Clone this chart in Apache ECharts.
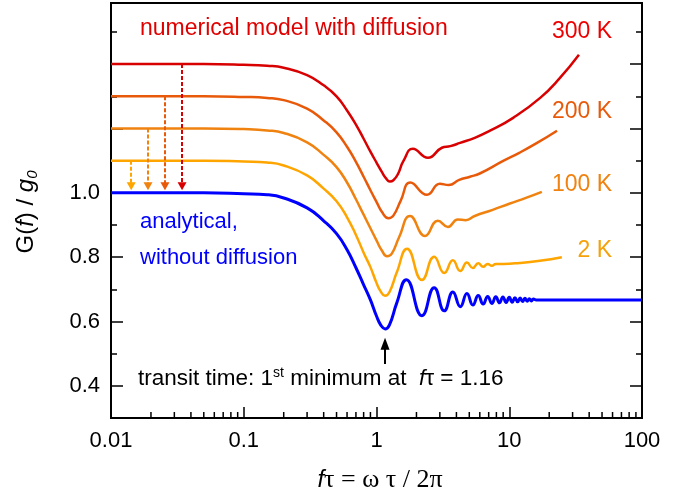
<!DOCTYPE html>
<html>
<head>
<meta charset="utf-8">
<script src="https://cdn.jsdelivr.net/npm/echarts@6/dist/echarts.min.js"></script>
<style>
  html, body { margin: 0; padding: 0; background: #fff; }
  #main { width: 690px; height: 496px; }
</style>
</head>
<body>
<div id="main"></div>
<script>
// curves, as [f*tau, G/g0]
var analytical = [
    [0.01, 1.0], [0.05, 1.0], [0.1, 0.997], [0.15, 0.994], [0.2, 0.984], [0.3, 0.953],
    [0.4, 0.913], [0.5, 0.873], [0.6, 0.823], [0.7, 0.767], [0.8, 0.714], [0.9, 0.667],
    [1.0, 0.617], [1.08, 0.588], [1.16, 0.577], [1.25, 0.589], [1.42, 0.657], [1.68, 0.730],
    [2.2, 0.618], [2.72, 0.705], [3.24, 0.633], [3.76, 0.692], [4.28, 0.646], [4.8, 0.687],
    [5.32, 0.651], [5.84, 0.681], [6.36, 0.654], [6.88, 0.678], [7.4, 0.656], [7.92, 0.677],
    [8.44, 0.658], [8.96, 0.676], [9.48, 0.659], [10.0, 0.675], [10.52, 0.660], [11.04, 0.674],
    [11.56, 0.661], [12.08, 0.673], [12.6, 0.662], [13.12, 0.672], [13.64, 0.663], [14.16, 0.671],
    [14.68, 0.664], [15.2, 0.670], [16, 0.667], [30, 0.667], [100, 0.667]
];
var k2 = [
    [0.01, 1.1], [0.05, 1.1], [0.1, 1.097], [0.15, 1.094], [0.2, 1.085], [0.3, 1.054],
    [0.4, 1.013], [0.5, 0.974], [0.6, 0.924], [0.7, 0.869], [0.8, 0.814], [0.9, 0.769],
    [1.0, 0.720], [1.08, 0.692], [1.16, 0.680], [1.25, 0.691], [1.42, 0.752], [1.70, 0.826],
    [2.2, 0.729], [2.72, 0.801], [3.24, 0.751], [3.76, 0.790], [4.28, 0.757], [4.8, 0.783],
    [5.32, 0.766], [5.84, 0.781], [6.36, 0.770], [6.88, 0.779], [7.4, 0.773], [7.92, 0.779],
    [9, 0.779], [12, 0.782], [17, 0.789], [24.9, 0.800]
];
var k100 = [
    [0.01, 1.2], [0.05, 1.2], [0.1, 1.198], [0.15, 1.194], [0.2, 1.186], [0.3, 1.157],
    [0.4, 1.118], [0.5, 1.080], [0.6, 1.032], [0.7, 0.980], [0.8, 0.932], [0.9, 0.890],
    [1.0, 0.852], [1.1, 0.820], [1.2, 0.803], [1.3, 0.810], [1.48, 0.862], [1.79, 0.928],
    [2.32, 0.866], [2.9, 0.913], [3.45, 0.894], [4.1, 0.917], [4.7, 0.915], [5.5, 0.928],
    [7.5, 0.947], [10, 0.966], [13.5, 0.985], [17.6, 1.003]
];
var k200 = [
    [0.01, 1.3], [0.05, 1.3], [0.1, 1.298], [0.15, 1.295], [0.2, 1.288], [0.3, 1.262],
    [0.4, 1.225], [0.5, 1.188], [0.6, 1.143], [0.7, 1.096], [0.8, 1.050], [0.9, 1.008],
    [1.0, 0.972], [1.1, 0.940], [1.23, 0.921], [1.34, 0.929], [1.52, 0.975], [1.8, 1.032],
    [2.4, 0.994], [3.0, 1.028], [3.5, 1.024], [4.2, 1.040], [5.06, 1.050], [6.0, 1.060],
    [9, 1.099], [12, 1.125], [16.2, 1.155], [22.9, 1.193]
];
var k300 = [
    [0.01, 1.4], [0.05, 1.4], [0.1, 1.398], [0.15, 1.395], [0.2, 1.389], [0.3, 1.366],
    [0.4, 1.334], [0.5, 1.300], [0.6, 1.256], [0.7, 1.212], [0.8, 1.168], [0.9, 1.128],
    [1.0, 1.094], [1.1, 1.064], [1.18, 1.045], [1.26, 1.035], [1.34, 1.039], [1.45, 1.058],
    [1.6, 1.100], [1.88, 1.137], [2.44, 1.109], [3.11, 1.140], [3.6, 1.145], [4.26, 1.155],
    [5.5, 1.171], [7.16, 1.193], [10.7, 1.233], [17.1, 1.295], [24.1, 1.357], [33.5, 1.429]
];

// dashed offset arrows: 2 K, 100 K, 200 K, 300 K
var arrowX = [0.0142, 0.019, 0.0255, 0.0343];
var arrowFrom = [1.1, 1.2, 1.3, 1.4];
var arrowTo = 1.02;
var firstMinimum = 1.16;

var xMinorTicks = [0.02, 0.03, 0.04, 0.05, 0.06, 0.07, 0.08, 0.09,
    0.2, 0.3, 0.4, 0.5, 0.6, 0.7, 0.8, 0.9, 2, 3, 4, 5, 6, 7, 8, 9,
    20, 30, 40, 50, 60, 70, 80, 90];
var yMajorTicks = [0.4, 0.6, 0.8, 1.0, 1.2, 1.4];
var yLabels = [0.4, 0.6, 0.8, 1.0];
var yMin = 0.3, yMax = 1.59;

var colors = { k300: '#d80000', k200: '#e85a0a', k100: '#f0820f', k2: '#ffa500', blue: '#0000ff' };
var FONT = 'Liberation Sans';
var TXT = '23px "Liberation Sans"';

var chart = echarts.init(document.getElementById('main'), null, { renderer: 'canvas' });

function yAxisBase(pos) {
    return {
        type: 'value', position: pos, min: yMin, max: yMax,
        axisLine: { show: false, onZero: false }, splitLine: { show: false },
        axisLabel: { show: false }
    };
}

function arrowLine(i, color) {
    return {
        silent: true,
        symbol: ['none', 'triangle'],
        symbolSize: [9, 8],
        label: { show: false },
        lineStyle: { color: color, width: 2, type: [4, 2] },
        data: [[{ coord: [arrowX[i], arrowFrom[i]] }, { coord: [arrowX[i], arrowTo] }]]
    };
}

function curve(name, data, color, width, arrow) {
    var s = {
        name: name, type: 'line', data: data, smooth: 0.5,
        symbol: 'none', showSymbol: false,
        lineStyle: { color: color, width: width },
        itemStyle: { color: color }
    };
    if (arrow) s.markLine = arrow;
    return s;
}

var option = {
    animation: false,
    grid: {
        left: 111, right: 48, top: 3, bottom: 78,
        show: true, borderColor: '#000', borderWidth: 2, backgroundColor: 'transparent'
    },
    xAxis: {
        type: 'log', logBase: 10, min: 0.01, max: 100,
        axisLine: { show: false }, splitLine: { show: false },
        axisTick: { inside: true, length: 11, lineStyle: { color: '#000', width: 1.5 } },
        axisLabel: {
            fontFamily: FONT, fontSize: 22, color: '#000', margin: 12,
            formatter: function (v) { return String(v); }
        }
    },
    yAxis: [
        Object.assign(yAxisBase('left'), {
            interval: 0.1,
            axisTick: { inside: true, length: 6, lineStyle: { color: '#000', width: 1.5 } }
        }),
        Object.assign(yAxisBase('left'), {
            axisTick: { inside: true, length: 12, customValues: yMajorTicks, lineStyle: { color: '#000', width: 1.5 } },
            axisLabel: {
                show: true, customValues: yLabels, fontFamily: FONT, fontSize: 22, color: '#000', margin: 11,
                formatter: function (v) { return v.toFixed(1); }
            }
        }),
        Object.assign(yAxisBase('right'), {
            interval: 0.1,
            axisTick: { inside: true, length: 6, lineStyle: { color: '#000', width: 1.5 } }
        }),
        Object.assign(yAxisBase('right'), {
            axisTick: { inside: true, length: 12, customValues: yMajorTicks, lineStyle: { color: '#000', width: 1.5 } }
        })
    ],
    series: [
        curve('300 K', k300, colors.k300, 2.5, arrowLine(3, colors.k300)),
        curve('200 K', k200, colors.k200, 2.5, arrowLine(2, colors.k200)),
        curve('100 K', k100, colors.k100, 2.5, arrowLine(1, colors.k100)),
        curve('2 K', k2, colors.k2, 2.5, arrowLine(0, colors.k2)),
        curve('analytical', analytical, colors.blue, 3, {
            silent: true,
            symbol: ['none', 'triangle'],
            symbolSize: [9, 12],
            label: { show: false },
            lineStyle: { color: '#000', width: 2, type: 'solid' },
            data: [[{ coord: [firstMinimum, 0.468] }, { coord: [firstMinimum, 0.531] }]]
        })
    ],
    graphic: [
        { type: 'text', x: 140, y: 29, style: { text: 'numerical model with diffusion', fill: '#e00000', font: TXT, verticalAlign: 'middle' } },
        { type: 'text', x: 612, y: 32, style: { text: '300 K', fill: '#ee0000', font: TXT, align: 'right', verticalAlign: 'middle' } },
        { type: 'text', x: 612, y: 112, style: { text: '200 K', fill: colors.k200, font: TXT, align: 'right', verticalAlign: 'middle' } },
        { type: 'text', x: 612, y: 185, style: { text: '100 K', fill: colors.k100, font: TXT, align: 'right', verticalAlign: 'middle' } },
        { type: 'text', x: 612, y: 251, style: { text: '2 K', fill: '#f5a20a', font: TXT, align: 'right', verticalAlign: 'middle' } },
        { type: 'text', x: 140, y: 222, style: { text: 'analytical,', fill: colors.blue, font: '22px "Liberation Sans"', verticalAlign: 'middle' } },
        { type: 'text', x: 140, y: 258, style: { text: 'without diffusion', fill: colors.blue, font: '22px "Liberation Sans"', verticalAlign: 'middle' } },
        {
            type: 'text', x: 138, y: 379,
            style: {
                text: '{n|transit time: 1}{sup|st}{n| minimum at  }{i|f}{n|τ = 1.16}',
                verticalAlign: 'middle',
                rich: {
                    n: { fontFamily: FONT, fontSize: 22.5, fill: '#000', lineHeight: 26 },
                    i: { fontFamily: FONT, fontSize: 22.5, fontStyle: 'italic', fill: '#000', lineHeight: 26 },
                    sup: { fontFamily: FONT, fontSize: 14, fill: '#000', lineHeight: 14, verticalAlign: 'top' }
                }
            }
        },
        {
            type: 'text', x: 26, y: 212, rotation: Math.PI / 2,
            style: {
                text: '{n|G(}{i|f}{n|) / }{i|g}{sub|0}',
                align: 'center', verticalAlign: 'middle',
                rich: {
                    n: { fontFamily: FONT, fontSize: 24, fill: '#000', lineHeight: 28 },
                    i: { fontFamily: FONT, fontSize: 24, fontStyle: 'italic', fill: '#000', lineHeight: 28 },
                    sub: { fontFamily: FONT, fontSize: 15, fontStyle: 'italic', fill: '#000', lineHeight: 15, verticalAlign: 'bottom' }
                }
            }
        },
        {
            type: 'text', x: 380, y: 480,
            style: {
                text: '{i|f}{s|τ = ω τ / 2π}',
                align: 'center', verticalAlign: 'middle',
                rich: {
                    i: { fontFamily: FONT, fontSize: 24, fontStyle: 'italic', fill: '#000' },
                    s: { fontFamily: 'Liberation Serif', fontSize: 26, fill: '#000' }
                }
            }
        }
    ]
};

chart.setOption(option);

// the log axis does not draw the 2..9 minor ticks, so place them through the axis scale
xMinorTicks.forEach(function (f) {
    var p = chart.convertToPixel({ xAxisIndex: 0, yAxisIndex: 0 }, [f, yMin]);
    option.graphic.push({
        type: 'line', silent: true, z: 10,
        shape: { x1: p[0], y1: p[1], x2: p[0], y2: p[1] - 6 },
        style: { stroke: '#000', lineWidth: 1.5 }
    });
});
chart.setOption(option, true);
</script>
</body>
</html>
